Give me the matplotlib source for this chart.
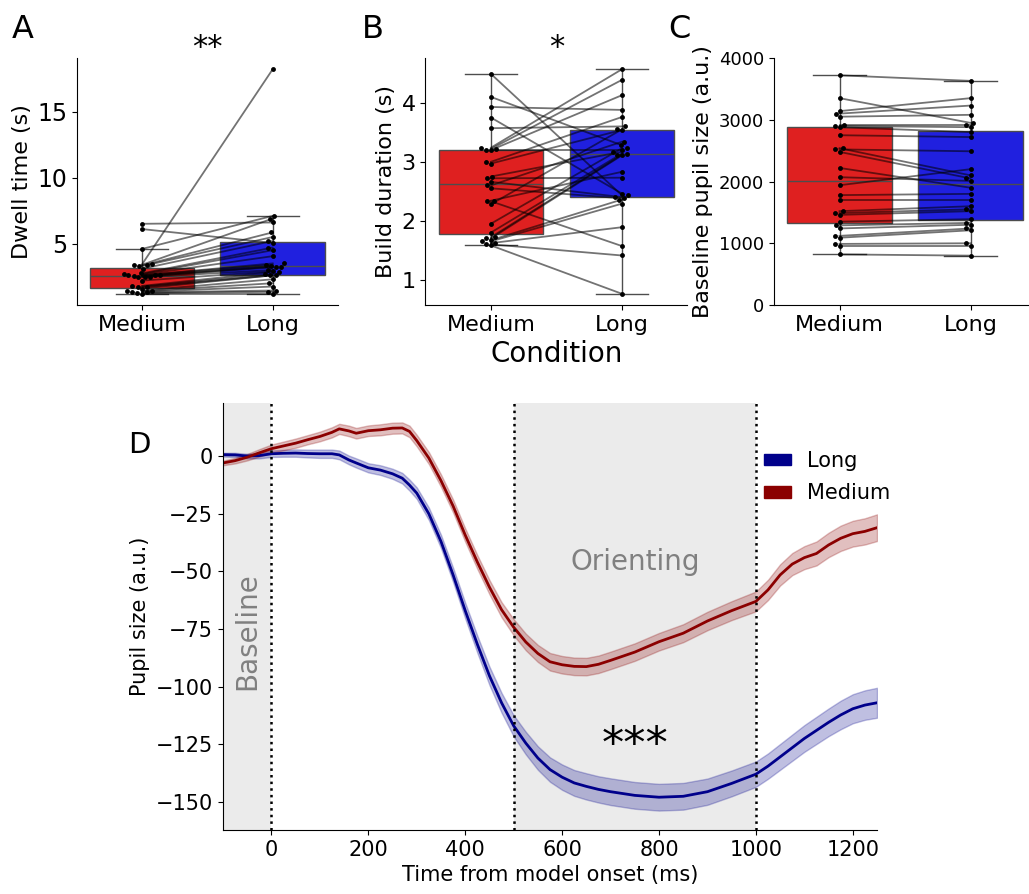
import numpy as np
import pandas as pd
import matplotlib
matplotlib.use('Agg')
import matplotlib.pyplot as plt
import seaborn as sns
from matplotlib.patches import Patch

conditions = ['Medium', 'Long']

# paired per-subject values (same order in both lists)
dwell_medium = [6.5, 6.1, 4.6, 3.45, 3.4, 3.35, 3.3, 3.1, 2.75, 2.7, 2.65, 2.6, 2.6, 2.55,
                2.5, 2.5, 2.45, 2.2, 1.8, 1.75, 1.7, 1.6, 1.45, 1.4, 1.35, 1.3, 1.25, 1.2]
dwell_long = [6.6, 5.05, 7.1, 18.2, 6.9, 5.85, 5.5, 5.2, 4.7, 4.5, 4.05, 3.5, 3.4, 3.3,
              3.25, 3.2, 3.0, 2.9, 2.85, 2.7, 2.6, 2.6, 2.3, 2.0, 1.75, 1.45, 1.35, 1.2]

build_medium = [4.49, 4.1, 3.93, 3.75, 3.57, 3.24, 3.22, 3.2, 3.2, 3.0, 2.97, 2.75, 2.72, 2.66,
                2.6, 2.55, 2.34, 2.33, 2.28, 1.95, 1.8, 1.72, 1.7, 1.67, 1.65, 1.62, 1.6, 1.58]
build_long = [2.43, 3.28, 3.88, 2.46, 3.6, 4.57, 4.39, 3.2, 4.13, 3.76, 3.54, 3.17, 2.73, 2.4,
              3.34, 2.38, 2.83, 1.57, 3.55, 3.23, 3.14, 3.12, 3.11, 2.36, 2.29, 1.89, 1.41, 0.76]

base_medium = [3720, 3350, 3140, 3100, 3050, 2920, 2900, 2880, 2750, 2540, 2520, 2480, 2220, 2070,
               1940, 1780, 1700, 1520, 1490, 1460, 1350, 1290, 1240, 1120, 1090, 990, 960, 820]
base_long = [3630, 2950, 3350, 3230, 3080, 2920, 2880, 2800, 2720, 2100, 2490, 2050, 1900, 2010,
             2200, 1800, 1700, 1600, 1550, 1520, 1390, 1330, 1300, 1240, 1210, 1000, 960, 800]

# pupil time course (read at these times)
time_ms = [-100, -75, -50, -25, 0, 25, 50, 75, 100, 125, 140, 160, 175, 200, 225, 250, 270, 285,
           300, 325, 350, 375, 400, 425, 450, 475, 500, 525, 550, 575, 600, 625, 650, 675, 700,
           750, 800, 850, 900, 950, 1000, 1025, 1050, 1075, 1100, 1125, 1150, 1175, 1200, 1225, 1250]
medium_mean = [-2.9, -1.9, -0.4, 1.5, 3.3, 4.5, 5.7, 7.2, 8.6, 10.4, 11.9, 11.0, 10.0, 11.1, 11.5,
               12.2, 12.3, 10.8, 6.8, -0.8, -10.6, -21.6, -34.2, -45.9, -56.8, -66.6, -74.2,
               -80.6, -85.6, -89.2, -90.5, -91.2, -91.3, -90.3, -88.6, -85.0, -80.5, -76.8,
               -71.5, -67.0, -63.0, -58.0, -51.5, -46.8, -44.0, -42.2, -38.5, -35.6, -33.6,
               -32.6, -31.0]
medium_ci = [1.0, 1.2, 1.4, 1.6, 1.8, 1.9, 2.0, 2.0, 2.1, 2.2, 2.2, 2.3, 2.3, 2.3, 2.4, 2.4, 2.4,
             2.5, 2.5, 2.6, 2.7, 2.8, 2.9, 3.0, 3.1, 3.3, 3.5, 3.6, 3.7, 3.8, 3.8, 3.8, 3.8, 3.8,
             3.8, 3.8, 3.8, 3.9, 4.0, 4.1, 4.3, 4.4, 4.6, 4.8, 5.0, 5.2, 5.3, 5.5, 5.6, 5.7, 5.8]
long_mean = [0.7, 0.6, 0.1, 0.3, 1.1, 1.3, 1.4, 1.2, 1.1, 1.1, 0.6, -1.6, -2.9, -5.0, -6.0, -7.6,
             -9.5, -12.5, -16.0, -25.0, -37.0, -51.5, -67.0, -81.6, -95.3, -107.0, -117.0,
             -124.5, -131.0, -136.0, -139.3, -141.8, -143.3, -144.6, -145.6, -147.2, -148.0,
             -147.6, -145.6, -142.0, -138.0, -134.5, -130.5, -126.5, -122.5, -119.0, -115.5,
             -112.3, -109.6, -108.0, -107.0]
long_ci = [0.8, 0.9, 1.0, 1.2, 1.4, 1.5, 1.6, 1.7, 1.8, 1.8, 1.9, 1.9, 2.0, 2.0, 2.1, 2.2, 2.3,
           2.4, 2.5, 2.7, 2.9, 3.1, 3.4, 3.7, 4.0, 4.3, 4.6, 4.9, 5.1, 5.3, 5.5, 5.6, 5.7, 5.7,
           5.8, 5.8, 5.8, 5.8, 5.7, 5.6, 5.5, 5.5, 5.6, 5.7, 5.8, 5.9, 6.0, 6.2, 6.3, 6.4, 6.5]

fig = plt.figure(figsize=(10.29, 8.94), dpi=100)
axA = fig.add_axes([0.0748, 0.6588, 0.2536, 0.2763])
axB = fig.add_axes([0.4135, 0.6588, 0.2546, 0.2763])
axC = fig.add_axes([0.7522, 0.6588, 0.2546, 0.2763])
axD = fig.add_axes([0.2167, 0.0716, 0.6356, 0.4776])


def paired_box(ax, med, lng, ylabel, xlabel, ytick_size):
    df = pd.DataFrame({'Condition': ['Medium'] * len(med) + ['Long'] * len(lng),
                       'value': list(med) + list(lng)})
    sns.boxplot(data=df, x='Condition', y='value', hue='Condition', order=conditions,
                hue_order=conditions, palette=['red', 'blue'], showfliers=False,
                legend=False, ax=ax)
    for m, l in zip(med, lng):
        ax.plot([0, 1], [m, l], color='k', alpha=0.55, lw=1.3, zorder=3)
    sns.swarmplot(data=df, x='Condition', y='value', order=conditions, color='black',
                  size=3.5, ax=ax, zorder=4)
    ax.set_ylabel(ylabel, fontsize=16)
    ax.set_xlabel(xlabel, fontsize=20)
    ax.tick_params(axis='x', labelsize=16)
    ax.tick_params(axis='y', labelsize=ytick_size)
    sns.despine(ax=ax)


paired_box(axA, dwell_medium, dwell_long, 'Dwell time (s)', '', 17)
paired_box(axB, build_medium, build_long, 'Build duration (s)', 'Condition', 16)
paired_box(axC, base_medium, base_long, 'Baseline pupil size (a.u.)', '', 13)
axA.set_yticks([5, 10, 15])
axB.set_yticks([1, 2, 3, 4])
axC.set_ylim(0, 4000)
axC.set_yticks([0, 1000, 2000, 3000, 4000])

axA.text(0.5, 1.01, '**', transform=axA.transAxes, ha='center', va='baseline', fontsize=22)
axB.text(0.5, 1.01, '*', transform=axB.transAxes, ha='center', va='baseline', fontsize=22)

# panel D
t = np.array(time_ms)
mm, mc = np.array(medium_mean), np.array(medium_ci)
lm, lc = np.array(long_mean), np.array(long_ci)

axD.axvspan(-100, 0, color='#ebebeb', lw=0, zorder=0)
axD.axvspan(500, 1000, color='#ebebeb', lw=0, zorder=0)
axD.fill_between(t, lm - lc, lm + lc, color='darkblue', alpha=0.25, lw=1)
axD.plot(t, lm, color='darkblue', lw=2)
axD.fill_between(t, mm - mc, mm + mc, color='darkred', alpha=0.25, lw=1)
axD.plot(t, mm, color='darkred', lw=2)
for x in [0, 500, 1000]:
    axD.axvline(x, color='k', ls=':', lw=1.8)

axD.set_xlim(-100, 1250)
axD.set_xticks([0, 200, 400, 600, 800, 1000, 1200])
axD.set_yticks([-150, -125, -100, -75, -50, -25, 0])
axD.tick_params(labelsize=15)
axD.set_xlabel('Time from model onset (ms)', fontsize=15)
axD.set_ylabel('Pupil size (a.u.)', fontsize=15)
sns.despine(ax=axD)

axD.text(-50, -76, 'Baseline', rotation=90, ha='center', va='center', color='gray', fontsize=20)
axD.text(750, -46, 'Orienting', ha='center', va='center', color='gray', fontsize=20)
axD.text(750, -131, '***', ha='center', va='baseline', fontsize=32)

fig.legend([Patch(color='darkblue'), Patch(color='darkred')], ['Long', 'Medium'],
           loc='upper left', bbox_to_anchor=(0.734, 0.505), frameon=False, fontsize=15,
           handlelength=1.3, handleheight=0.45, labelspacing=0.6, borderaxespad=0)

fig.text(0.0117, 0.9575, 'A', fontsize=23, va='baseline')
fig.text(0.3518, 0.9575, 'B', fontsize=23, va='baseline')
fig.text(0.649, 0.9575, 'C', fontsize=23, va='baseline')
fig.text(0.1244, 0.4933, 'D', fontsize=21, va='baseline')

fig.savefig('out.png', dpi=100)
